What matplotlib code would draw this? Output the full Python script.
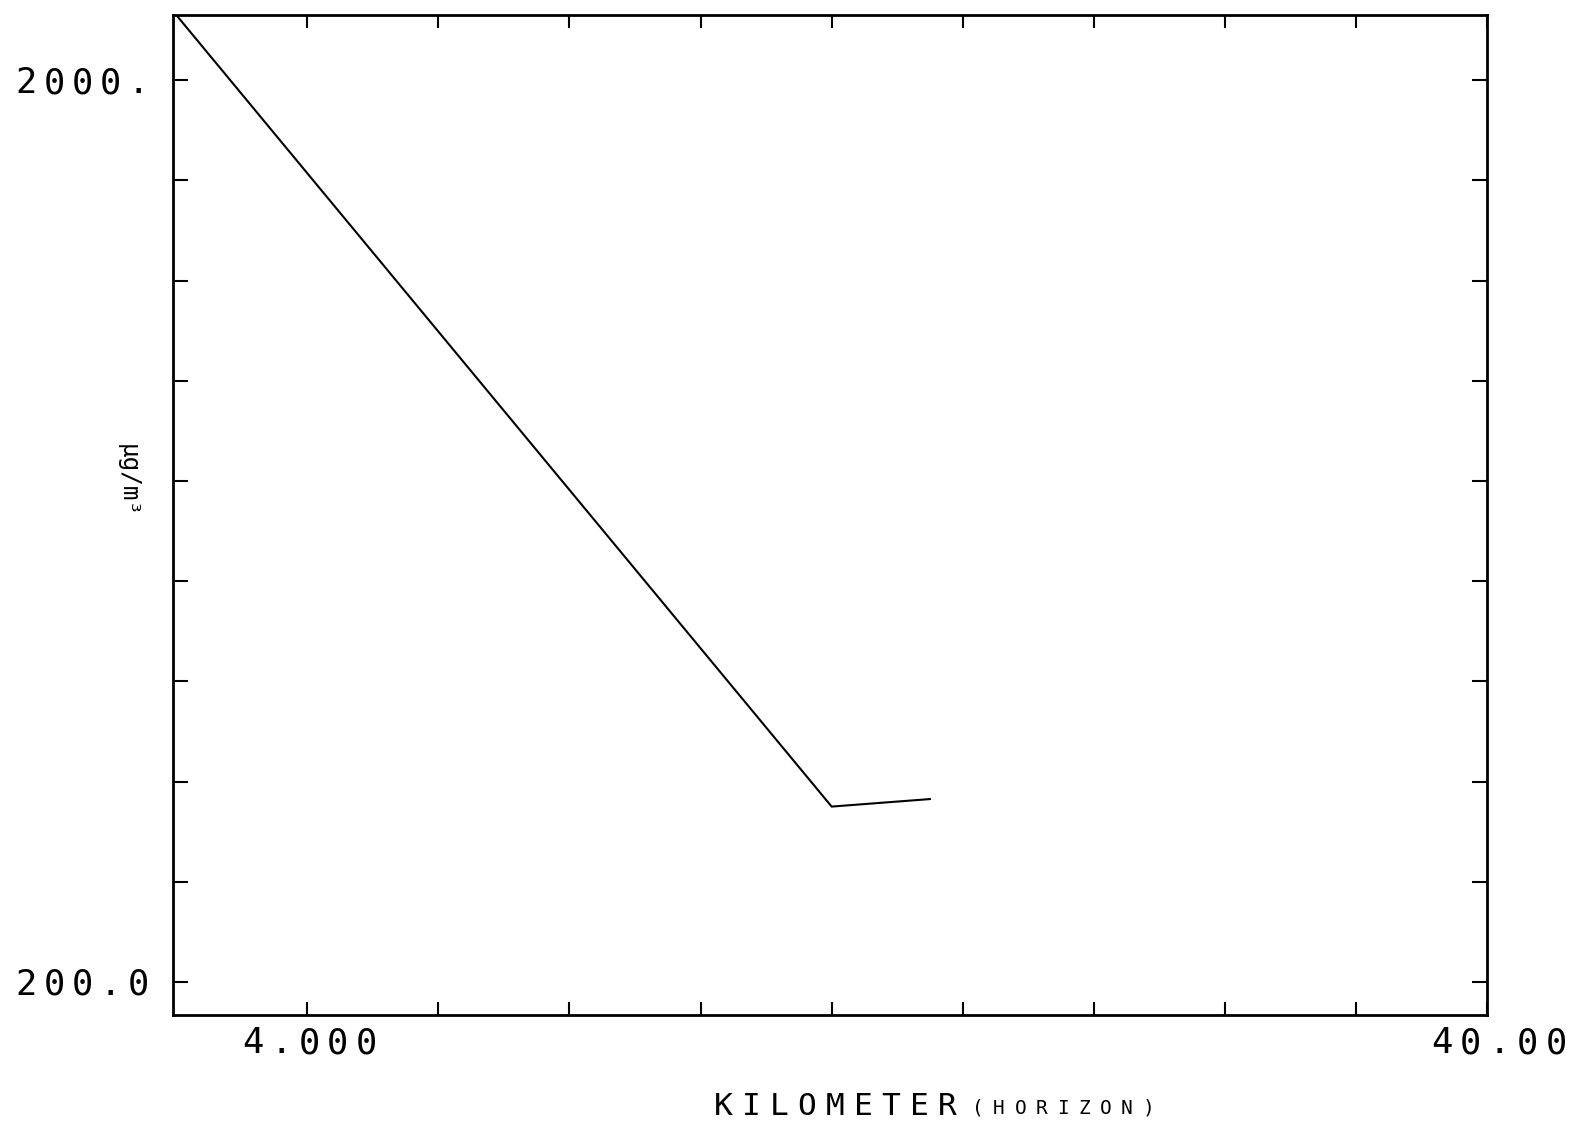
import matplotlib
matplotlib.use("Agg")
import matplotlib.pyplot as plt
from matplotlib.transforms import offset_copy, blended_transform_factory

# data
km = [0.0, 20.0, 23.0]
conc = [2130.0, 550.0, 565.0]

x_ticks = [4, 8, 12, 16, 20, 24, 28, 32, 36, 40]
x_label_vals = [4, 40]
x_label_txt = ["4.000", "40.00"]
y_ticks = [200, 400, 600, 800, 1000, 1200, 1400, 1600, 1800, 2000]
y_label_vals = [200, 2000]
y_label_txt = ["200.0", "2000."]

MONO = "DejaVu Sans Mono"
W, H = 1572, 1127

fig = plt.figure(figsize=(W / 100, H / 100), dpi=100)
ax = fig.add_axes([173 / W, 1 - 1015 / H, (1487 - 173) / W, (1015 - 15) / H])

ax.plot(km, conc, color="black", lw=1.5)

ax.set_xlim(-0.1, 40)
ax.set_ylim(134, 2130)
ax.set_xticks(x_ticks)
ax.set_yticks(y_ticks)
ax.set_xticklabels([])
ax.set_yticklabels([])
ax.tick_params(axis="both", direction="in", width=1.5, top=True, right=True)
ax.tick_params(axis="y", length=11)
ax.tick_params(axis="x", length=9.5)
for s in ax.spines.values():
    s.set_linewidth(2.0)


def spaced(x, y, s, trans, pitch, size, dy=0.0):
    # plotter style: fixed character pitch, wider than the font's own
    n = len(s)
    for i, ch in enumerate(s):
        dx = (i - (n - 1) / 2) * pitch
        t = offset_copy(trans, fig=fig, x=dx, y=dy, units="dots")
        fig.text(x, y, ch, transform=t, ha="center", va="baseline",
                 fontfamily=MONO, fontsize=size)


# y tick labels
ytrans = blended_transform_factory(fig.transFigure, ax.transData)
for v, s in zip(y_label_vals, y_label_txt):
    spaced(82 / W, v, s, ytrans, 28, 25.5, dy=-13)

# x tick labels
xtrans = blended_transform_factory(ax.transData, fig.transFigure)
for v, s, shift in zip(x_label_vals, x_label_txt, [2, 12]):
    t = offset_copy(xtrans, fig=fig, x=shift, y=0, units="dots")
    spaced(v, 1 - 1053 / H, s, t, 28.5, 25.5)

# axis titles
spaced(835 / W, 1 - 1115 / H, "KILOMETER", fig.transFigure, 28, 22.5)
spaced(1063 / W, 1 - 1114 / H, "(HORIZON)", fig.transFigure, 21.3, 14)
fig.text(128 / W, 1 - 481 / H, "µg/m³", fontfamily=MONO, fontsize=17.5,
         rotation=270, ha="center", va="center")

fig.savefig("out.png", dpi=100, facecolor="white")
